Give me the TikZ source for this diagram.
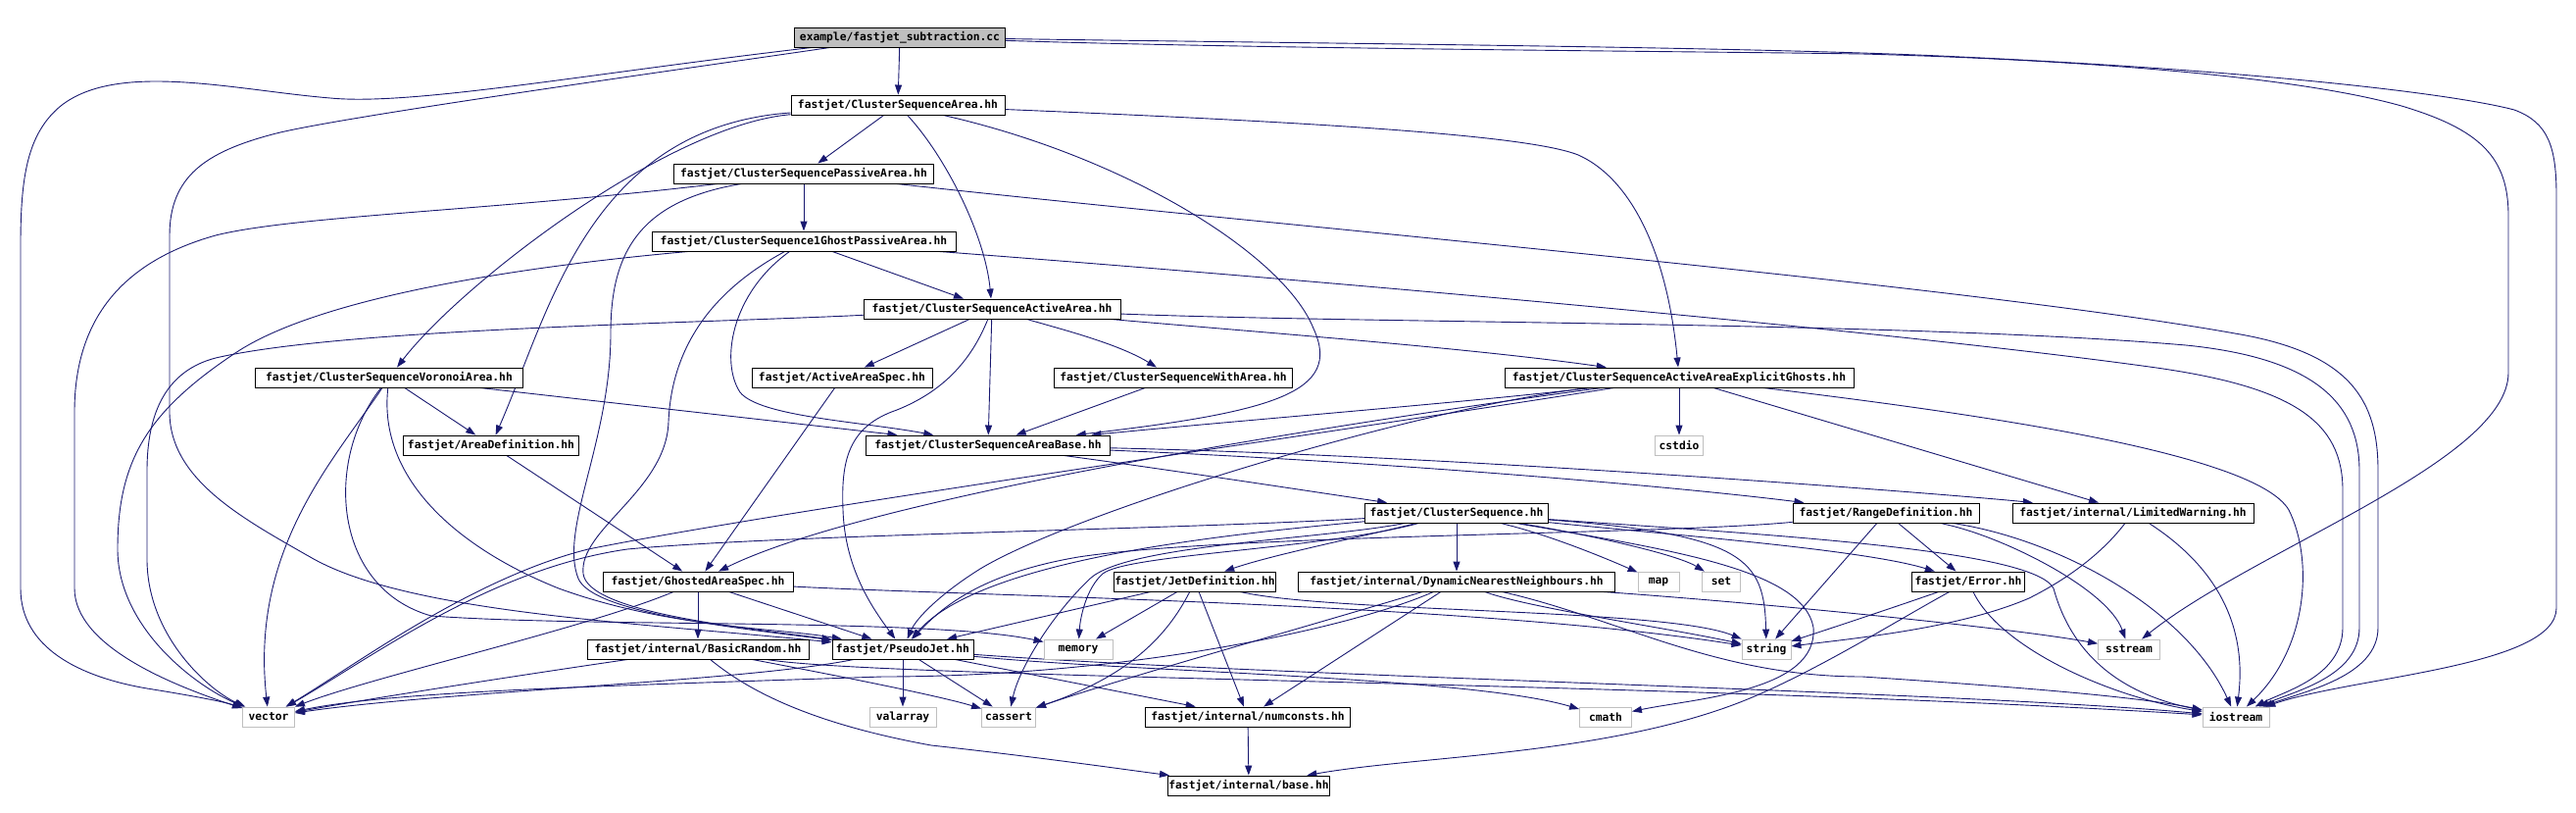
\documentclass[tikz,border=0pt]{standalone}
\usepackage{fontspec}
\setmonofont{DejaVu Sans Mono}
\usepackage{xcolor}
\usepackage{tikz}
\usetikzlibrary{arrows.meta, backgrounds}
\definecolor{edgeblue}{HTML}{191970}
\definecolor{sysgrey}{HTML}{BFBFBF}
\newcommand{\incfont}{\fontsize{11.3}{12}\selectfont\ttfamily\bfseries}

\begin{document}
\begin{tikzpicture}[
    x=1pt, y=-1pt,
    hdr/.style={rectangle, draw=black, fill=white, line width=0.9pt, minimum width=#1pt, minimum height=20pt, inner xsep=1pt, inner ysep=0pt, font=\incfont},
    sys/.style={hdr=#1, draw=sysgrey},
    src/.style={hdr=#1, fill=sysgrey},
    dep/.style={-{Triangle[length=10pt,width=7pt]}, edgeblue, line width=0.9pt}
]
\useasboundingbox (0,0) rectangle (2628,828);

\node[src=215] (cc) at (918,38) {example/fastjet\_subtraction.cc};
\node[hdr=218] (csa) at (916,107) {fastjet/ClusterSequenceArea.hh};
\node[hdr=265] (cspa) at (820,177) {fastjet/ClusterSequencePassiveArea.hh};
\node[hdr=310] (cs1g) at (820,246) {fastjet/ClusterSequence1GhostPassiveArea.hh};
\node[hdr=262] (csaa) at (1012,315) {fastjet/ClusterSequenceActiveArea.hh};
\node[hdr=273] (csva) at (397,385) {fastjet/ClusterSequenceVoronoiArea.hh};
\node[hdr=184] (aas) at (859,385) {fastjet/ActiveAreaSpec.hh};
\node[hdr=243] (cswa) at (1197,385) {fastjet/ClusterSequenceWithArea.hh};
\node[hdr=356] (csaeg) at (1713,385) {fastjet/ClusterSequenceActiveAreaExplicitGhosts.hh};
\node[hdr=179] (ad) at (501,454) {fastjet/AreaDefinition.hh};
\node[hdr=249] (csab) at (1008,454) {fastjet/ClusterSequenceAreaBase.hh};
\node[sys=49] (cstdio) at (1713,454) {cstdio};
\node[hdr=187] (cs) at (1486,523) {fastjet/ClusterSequence.hh};
\node[hdr=190] (rd) at (1924,523) {fastjet/RangeDefinition.hh};
\node[hdr=246] (lw) at (2176,523) {fastjet/internal/LimitedWarning.hh};
\node[hdr=194] (gas) at (712,593) {fastjet/GhostedAreaSpec.hh};
\node[hdr=164] (jd) at (1219,593) {fastjet/JetDefinition.hh};
\node[hdr=323] (dnn) at (1486,593) {fastjet/internal/DynamicNearestNeighbours.hh};
\node[sys=42] (map) at (1692,593) {map};
\node[sys=39] (set) at (1756,593) {set};
\node[hdr=115] (err) at (2008,593) {fastjet/Error.hh};
\node[hdr=226] (br) at (712,662) {fastjet/internal/BasicRandom.hh};
\node[hdr=144] (pj) at (921,662) {fastjet/PseudoJet.hh};
\node[sys=70] (memory) at (1100,662) {memory};
\node[sys=50] (string) at (1802,662) {string};
\node[sys=63] (sstream) at (2172,662) {sstream};
\node[sys=53] (vector) at (274,731) {vector};
\node[sys=68] (valarray) at (921,731) {valarray};
\node[sys=55] (cassert) at (1029,731) {cassert};
\node[hdr=209] (nc) at (1273,731) {fastjet/internal/numconsts.hh};
\node[sys=53] (cmath) at (1638,731) {cmath};
\node[sys=68] (iostream) at (2281,731) {iostream};
\node[hdr=164] (base) at (1274,801) {fastjet/internal/base.hh};

\begin{scope}[on background layer]
\draw[dep] (cc) -- (csa);
\draw[dep] (cc) .. controls (600,75) and (420,108) .. (337,100) .. controls (240,92) and (120,62) .. (62,108) .. controls (28,136) and (21,180) .. (21,250) -- (21,600) .. controls (21,660) and (80,690) .. (150,702) .. controls (200,710) and (230,716) .. (vector);
\draw[dep] (cc) .. controls (700,70) and (340,120) .. (278,137) .. controls (210,155) and (173,180) .. (173,240) -- (173,420) .. controls (173,490) and (250,530) .. (320,570) .. controls (420,625) and (650,635) .. (pj);
\draw[dep] (cc) .. controls (1300,50) and (1700,52) .. (1900,55) .. controls (2150,62) and (2350,80) .. (2450,108) .. controls (2530,132) and (2559,160) .. (2559,220) -- (2559,380) .. controls (2559,470) and (2300,560) .. (sstream);
\draw[dep] (cc) .. controls (1400,45) and (1800,48) .. (2000,58) .. controls (2300,72) and (2500,95) .. (2565,112) .. controls (2600,125) and (2608,150) .. (2608,200) -- (2608,620) .. controls (2608,680) and (2400,690) .. (iostream);

\draw[dep] (csa) -- (cspa);
\draw[dep] (csa) .. controls (965,160) and (1005,240) .. (csaa);
\draw[dep] (csa) .. controls (680,128) and (470,290) .. (csva);
\draw[dep] (csa) .. controls (600,130) and (560,320) .. (ad);
\draw[dep] (csa) .. controls (1150,160) and (1310,260) .. (1340,335) .. controls (1370,400) and (1300,420) .. (csab);
\draw[dep] (csa) .. controls (1350,125) and (1560,138) .. (1610,158) .. controls (1660,180) and (1700,250) .. (csaeg);

\draw[dep] (cspa) -- (cs1g);
\draw[dep] (cspa) .. controls (500,215) and (300,220) .. (220,240) .. controls (120,268) and (76,330) .. (76,420) -- (76,600) .. controls (76,660) and (180,700) .. (vector);
\draw[dep] (cspa) .. controls (650,205) and (623,260) .. (623,340) .. controls (623,450) and (570,540) .. (590,590) .. controls (605,625) and (750,640) .. (pj);
\draw[dep] (cspa) .. controls (1300,230) and (2000,290) .. (2280,340) .. controls (2400,360) and (2426,410) .. (2426,480) -- (2426,640) .. controls (2426,690) and (2350,705) .. (iostream);

\draw[dep] (cs1g) -- (csaa);
\draw[dep] (cs1g) .. controls (550,270) and (330,300) .. (240,360) .. controls (150,420) and (120,470) .. (120,560) .. controls (120,640) and (200,700) .. (vector);
\draw[dep] (cs1g) .. controls (720,300) and (685,360) .. (682,430) .. controls (680,500) and (590,540) .. (595,585) .. controls (600,625) and (760,640) .. (pj);
\draw[dep] (cs1g) .. controls (745,300) and (735,370) .. (755,400) .. controls (775,425) and (880,430) .. (csab);
\draw[dep] (cs1g) .. controls (1400,290) and (1950,340) .. (2200,375) .. controls (2340,395) and (2390,430) .. (2390,500) -- (2390,640) .. controls (2390,690) and (2330,705) .. (iostream);

\draw[dep] (csaa) -- (aas);
\draw[dep] (csaa) .. controls (1080,335) and (1140,350) .. (cswa);
\draw[dep] (csaa) .. controls (1300,340) and (1500,355) .. (csaeg);
\draw[dep] (csaa) .. controls (1400,330) and (1950,328) .. (2230,352) .. controls (2360,365) and (2407,410) .. (2407,480) -- (2407,640) .. controls (2407,690) and (2340,705) .. (iostream);
\draw[dep] (csaa) -- (csab);
\draw[dep] (csaa) .. controls (990,370) and (960,400) .. (915,418) .. controls (865,435) and (858,470) .. (860,520) .. controls (862,580) and (890,620) .. (pj);
\draw[dep] (csaa) .. controls (700,330) and (350,335) .. (220,365) .. controls (170,378) and (150,420) .. (150,480) -- (150,570) .. controls (150,650) and (215,705) .. (vector);

\draw[dep] (csva) -- (ad);
\draw[dep] (csva) -- (csab);
\draw[dep] (csva) .. controls (340,470) and (255,560) .. (vector);
\draw[dep] (csva) .. controls (385,490) and (470,560) .. (570,600) .. controls (680,640) and (790,640) .. (pj);
\draw[dep] (csva) .. controls (330,470) and (340,600) .. (440,628) .. controls (600,640) and (950,630) .. (memory);

\draw[dep] (aas) -- (gas);
\draw[dep] (cswa) -- (csab);
\draw[dep] (ad) -- (gas);

\draw[dep] (csaeg) -- (cstdio);
\draw[dep] (csaeg) -- (lw);
\draw[dep] (csaeg) .. controls (2000,420) and (2300,460) .. (2335,520) .. controls (2360,570) and (2355,660) .. (iostream);
\draw[dep] (csaeg) .. controls (1500,410) and (1250,430) .. (csab);
\draw[dep] (csaeg) .. controls (1450,420) and (900,500) .. (gas);
\draw[dep] (csaeg) .. controls (1450,415) and (1100,520) .. (1000,580) .. controls (960,605) and (935,630) .. (pj);
\draw[dep] (csaeg) .. controls (1300,450) and (800,520) .. (600,560) .. controls (480,590) and (360,680) .. (vector);

\draw[dep] (csab) .. controls (1200,480) and (1330,500) .. (cs);
\draw[dep] (csab) .. controls (1400,470) and (1700,495) .. (rd);
\draw[dep] (csab) .. controls (1500,465) and (2000,505) .. (lw);

\draw[dep] (cs) -- (dnn);
\draw[dep] (cs) .. controls (1580,545) and (1640,570) .. (map);
\draw[dep] (cs) .. controls (1620,545) and (1710,565) .. (set);
\draw[dep] (cs) .. controls (1780,545) and (1800,570) .. (string);
\draw[dep] (cs) .. controls (1700,560) and (1840,580) .. (1850,640) .. controls (1855,705) and (1730,712) .. (cmath);
\draw[dep] (cs) .. controls (1700,545) and (1900,560) .. (err);
\draw[dep] (cs) .. controls (1800,545) and (2075,560) .. (2095,600) .. controls (2110,655) and (2150,705) .. (iostream);
\draw[dep] (cs) .. controls (1400,545) and (1300,565) .. (jd);
\draw[dep] (cs) .. controls (1250,545) and (1000,570) .. (pj);
\draw[dep] (cs) .. controls (1350,560) and (1150,565) .. (1125,585) .. controls (1108,600) and (1102,630) .. (memory);
\draw[dep] (cs) .. controls (1350,550) and (1150,555) .. (1112,590) .. controls (1075,625) and (1040,680) .. (cassert);
\draw[dep] (cs) .. controls (1200,540) and (800,545) .. (640,560) .. controls (500,580) and (380,670) .. (vector);

\draw[dep] (rd) -- (err);
\draw[dep] (rd) -- (string);
\draw[dep] (rd) .. controls (2040,545) and (2150,600) .. (sstream);
\draw[dep] (rd) .. controls (2100,550) and (2230,620) .. (iostream);
\draw[dep] (rd) .. controls (1700,545) and (1250,545) .. (1100,568) .. controls (1000,585) and (960,620) .. (pj);

\draw[dep] (lw) .. controls (2140,570) and (2100,595) .. (2070,610) .. controls (2000,640) and (1900,650) .. (string);
\draw[dep] (lw) .. controls (2280,590) and (2290,660) .. (iostream);

\draw[dep] (jd) -- (pj);
\draw[dep] (jd) -- (memory);
\draw[dep] (jd) .. controls (1190,650) and (1150,690) .. (cassert);
\draw[dep] (jd) -- (nc);
\draw[dep] (jd) .. controls (1360,625) and (1700,620) .. (string);

\draw[dep] (dnn) .. controls (1380,640) and (1150,690) .. (900,690) .. controls (600,700) and (400,705) .. (vector);
\draw[dep] (dnn) -- (nc);
\draw[dep] (dnn) .. controls (1330,640) and (1150,690) .. (cassert);
\draw[dep] (dnn) .. controls (1560,620) and (1700,640) .. (string);
\draw[dep] (dnn) .. controls (1800,615) and (2050,640) .. (sstream);
\draw[dep] (dnn) .. controls (1650,630) and (1750,690) .. (1900,690) .. controls (2050,700) and (2180,710) .. (iostream);

\draw[dep] (err) .. controls (1930,620) and (1870,640) .. (string);
\draw[dep] (err) .. controls (1940,630) and (1860,680) .. (1790,710) .. controls (1650,770) and (1450,770) .. (base);
\draw[dep] (err) .. controls (2040,660) and (2150,710) .. (iostream);

\draw[dep] (gas) .. controls (600,640) and (380,690) .. (vector);
\draw[dep] (gas) -- (br);
\draw[dep] (gas) -- (pj);
\draw[dep] (gas) .. controls (1000,608) and (1500,615) .. (string);

\draw[dep] (br) .. controls (520,690) and (380,712) .. (vector);
\draw[dep] (br) .. controls (860,690) and (960,710) .. (cassert);
\draw[dep] (br) .. controls (770,710) and (840,740) .. (950,760) .. controls (1060,772) and (1150,785) .. (base);
\draw[dep] ([xshift=70pt]br.south) .. controls (900,692) and (1700,695) .. (iostream);

\draw[dep] (pj) -- (valarray);
\draw[dep] (pj) -- (cassert);
\draw[dep] (pj) -- (nc);
\draw[dep] (pj) .. controls (1150,685) and (1500,690) .. (cmath);
\draw[dep] (pj) .. controls (1300,690) and (2000,705) .. (iostream);
\draw[dep] ([xshift=-50pt]pj.south) .. controls (760,695) and (450,705) .. (vector);

\draw[dep] (nc) -- (base);
\end{scope}

\end{tikzpicture}
\end{document}
